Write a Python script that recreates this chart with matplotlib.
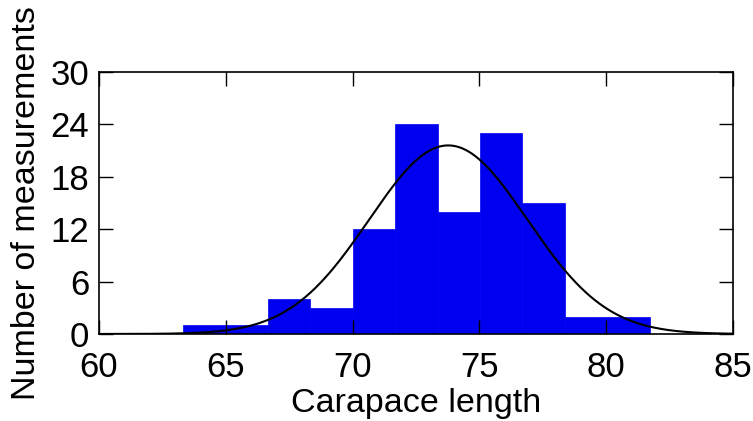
import numpy as np
import matplotlib
matplotlib.use("Agg")
import matplotlib.pyplot as plt

# histogram
bin_start = 63.32
bin_width = 1.672
counts = [1, 1, 4, 3, 12, 24, 14, 23, 15, 2, 2]

# fitted normal curve (peak position / spread)
fit_mean = 73.77
fit_sigma = 3.12

x_ticks = [60, 65, 70, 75, 80, 85]
y_ticks = [0, 6, 12, 18, 24, 30]

plt.rcParams['font.family'] = ['Liberation Sans', 'DejaVu Sans']

fig = plt.figure(figsize=(7.53, 4.21), dpi=100)
ax = fig.add_axes([0.1315, 0.2067, 0.842, 0.6223])

edges = bin_start + bin_width * np.arange(len(counts) + 1)
ax.bar(edges[:-1], counts, width=bin_width, align='edge', color='#0000f0',
       edgecolor='#0000f0', linewidth=0.5)

n_total = sum(counts)
xs = np.linspace(60, 85, 400)
ys = n_total * bin_width / (fit_sigma * np.sqrt(2 * np.pi)) * np.exp(-0.5 * ((xs - fit_mean) / fit_sigma) ** 2)
ax.plot(xs, ys, color='black', linewidth=1.5)

ax.set_xlim(60, 85)
ax.set_ylim(0, 30)
ax.set_xticks(x_ticks)
ax.set_yticks(y_ticks)
ax.tick_params(direction='in', length=10, width=1, labelsize=25,
               top=True, right=True)
ax.tick_params(axis='x', pad=12)
ax.tick_params(axis='y', pad=7)
for s in ax.spines.values():
    s.set_linewidth(1.2)

ax.set_xlabel("Carapace length", fontsize=24.5, labelpad=3)
ax.set_ylabel("Number of measurements", fontsize=24.5, labelpad=6)

fig.savefig("out.png", dpi=100)
